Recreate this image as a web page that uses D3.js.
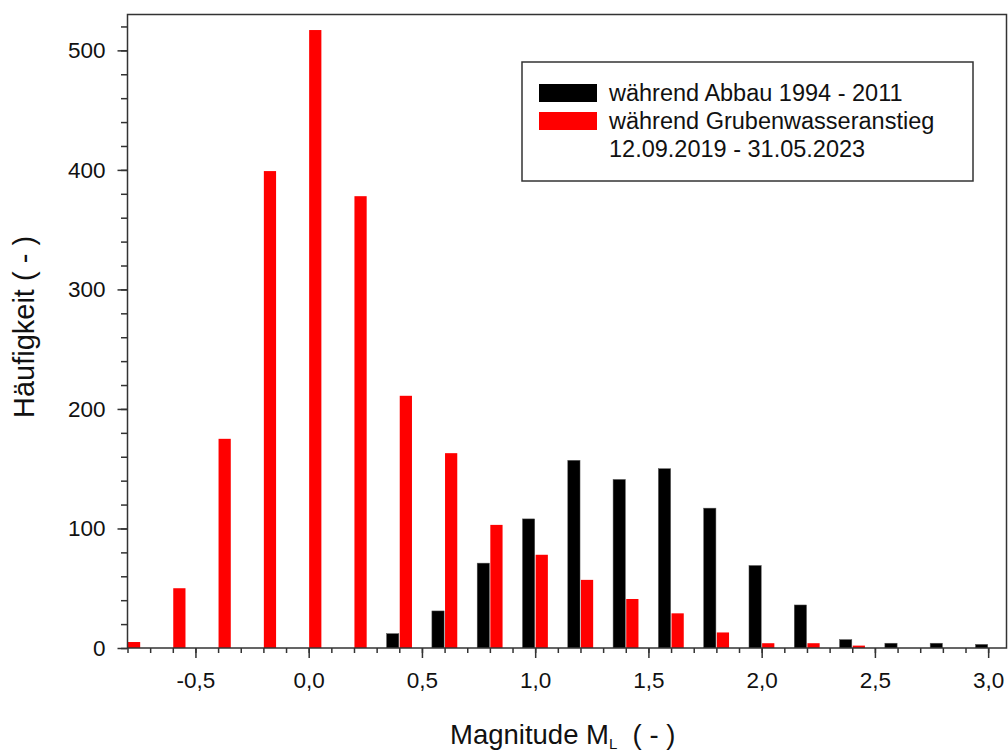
<!DOCTYPE html>
<html>
<head>
<meta charset="utf-8">
<script src="https://cdn.jsdelivr.net/npm/d3@7"></script>
<style>
  html, body { margin: 0; padding: 0; background: #fff; }
  svg { display: block; font-family: "Liberation Sans", Arial, sans-serif; }
</style>
</head>
<body>
<svg id="chart" width="1008" height="754"></svg>
<script>
// ---- data ----
const bins = [-0.8, -0.6, -0.4, -0.2, 0.0, 0.2, 0.4, 0.6, 0.8, 1.0, 1.2, 1.4, 1.6, 1.8, 2.0, 2.2, 2.4, 2.6, 2.8, 3.0];
const abbau = [0, 0, 0, 0, 0, 0, 12, 31, 71, 108, 157, 141, 150, 117, 69, 36, 7, 4, 4, 3];
const anstieg = [5, 50, 175, 399, 517, 378, 211, 163, 103, 78, 57, 41, 29, 13, 4, 4, 2, 0, 0, 0];
const xMajorTicks = [-0.5, 0.0, 0.5, 1.0, 1.5, 2.0, 2.5, 3.0];
const yMajorTicks = [0, 100, 200, 300, 400, 500];
const seriesNames = ["während Abbau 1994 - 2011", "während Grubenwasseranstieg", "12.09.2019 - 31.05.2023"];
const colors = ["#000000", "#ff0000"];

// ---- layout ----
const svg = d3.select("#chart");
const L = 127.5, R = 1006.5, T = 14.5, B = 648;
const x = d3.scaleLinear().domain([-0.8, 3.081]).range([L, R]);
const y = d3.scaleLinear().domain([0, 530]).range([B, T]);
const fmt = d => d3.format(".1f")(d).replace(".", ",").replace("−", "-");

svg.append("defs").append("clipPath").attr("id", "clip")
  .append("rect").attr("x", L).attr("y", T).attr("width", R - L).attr("height", B - T);

const bw = 0.054;
const g = svg.append("g").attr("clip-path", "url(#clip)");
const rows = bins.map((b, i) => ({b, a: abbau[i], r: anstieg[i]}));
g.selectAll("rect.black").data(rows.filter(d => d.a > 0)).join("rect")
  .attr("x", d => x(d.b - bw - 0.002)).attr("width", x(bw) - x(0))
  .attr("y", d => y(d.a)).attr("height", d => y(0) - y(d.a))
  .attr("fill", colors[0]).attr("stroke", "#555").attr("stroke-width", 0.5);
g.selectAll("rect.red").data(rows.filter(d => d.r > 0)).join("rect")
  .attr("x", d => x(d.b + 0.002)).attr("width", x(bw) - x(0))
  .attr("y", d => y(d.r)).attr("height", d => y(0) - y(d.r))
  .attr("fill", colors[1]);

// frame
svg.append("rect").attr("x", L).attr("y", T).attr("width", R - L).attr("height", B - T)
  .attr("fill", "none").attr("stroke", "#333").attr("stroke-width", 1.5);

// x axis
const xAxis = svg.append("g").attr("transform", `translate(0,${B})`);
xAxis.call(d3.axisBottom(x).tickValues(d3.range(-8, 31).map(v => v / 10)).tickSize(5).tickFormat(""))
  .call(s => s.select(".domain").remove())
  .call(s => s.selectAll("line").attr("stroke", "#333").attr("stroke-width", 1.5));
const xMaj = svg.append("g").attr("transform", `translate(0,${B})`);
xMaj.call(d3.axisBottom(x).tickValues(xMajorTicks).tickSize(10).tickPadding(14).tickFormat(fmt))
  .call(s => s.select(".domain").remove())
  .call(s => s.selectAll("line").attr("stroke", "#333").attr("stroke-width", 1.5))
  .call(s => s.selectAll("text").attr("font-size", 22.5).attr("fill", "#111")
    .attr("font-family", "Liberation Sans, Arial, sans-serif"));

// y axis
const yAxis = svg.append("g").attr("transform", `translate(${L},0)`);
yAxis.call(d3.axisLeft(y).tickValues(d3.range(0, 521, 20)).tickSize(6.5).tickFormat(""))
  .call(s => s.select(".domain").remove())
  .call(s => s.selectAll("line").attr("stroke", "#333").attr("stroke-width", 1.5));
const yMaj = svg.append("g").attr("transform", `translate(${L},0)`);
yMaj.call(d3.axisLeft(y).tickValues(yMajorTicks).tickSize(10).tickPadding(12).tickFormat(d3.format("d")))
  .call(s => s.select(".domain").remove())
  .call(s => s.selectAll("line").attr("stroke", "#333").attr("stroke-width", 1.5))
  .call(s => s.selectAll("text").attr("font-size", 22.5).attr("fill", "#111")
    .attr("font-family", "Liberation Sans, Arial, sans-serif"));

// axis titles
const xt = svg.append("text").attr("x", 450).attr("y", 744).attr("font-size", 27.5).attr("fill", "#111");
xt.append("tspan").text("Magnitude M");
xt.append("tspan").attr("dy", 5).attr("font-size", 15).text("L");
xt.append("tspan").attr("dy", -5).text(" \u00a0( - )");

svg.append("text").attr("transform", "translate(34,327) rotate(-90)")
  .attr("text-anchor", "middle").attr("font-size", 29).attr("fill", "#111")
  .text("Häufigkeit ( - )");

// legend
const lg = svg.append("g");
lg.append("rect").attr("x", 522).attr("y", 62).attr("width", 451).attr("height", 119)
  .attr("fill", "#fff").attr("stroke", "#333").attr("stroke-width", 1.5);
lg.append("rect").attr("x", 539).attr("y", 84).attr("width", 58).attr("height", 18).attr("fill", colors[0]);
lg.append("rect").attr("x", 539).attr("y", 112).attr("width", 58).attr("height", 18).attr("fill", colors[1]);
lg.selectAll("text.lt").data(seriesNames).join("text")
  .attr("x", 609).attr("y", (d, i) => 101 + i * 28)
  .attr("font-size", 23.5).attr("fill", "#111").text(d => d);
</script>
</body>
</html>
